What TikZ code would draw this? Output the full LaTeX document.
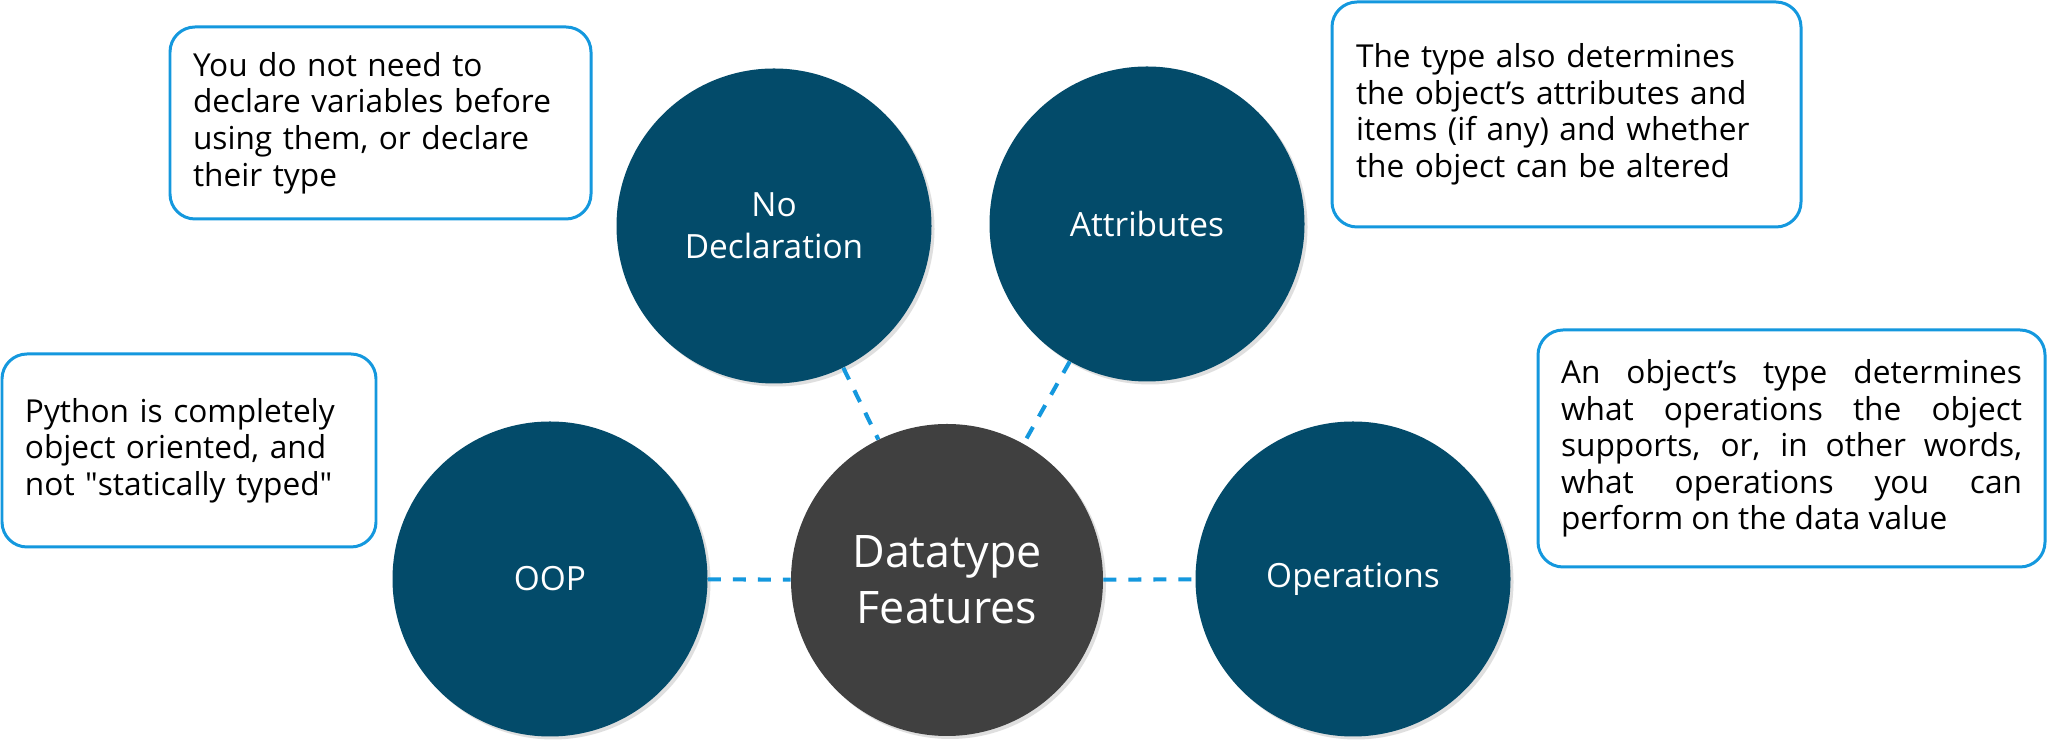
\documentclass[tikz,border=0pt]{standalone}
\usepackage{fontspec}
\setmainfont{Open Sans}
\usepackage{xcolor}
\usepackage{tikz}
\usetikzlibrary{shadows}

\definecolor{featblue}{RGB}{3,75,106}
\definecolor{hubgray}{RGB}{64,64,64}
\definecolor{lineblue}{RGB}{20,152,222}

\begin{document}
\begin{tikzpicture}[
  bubble/.style={circle,fill=featblue,text=white,minimum size=6.3cm,inner sep=0pt,align=center,
    font=\fontsize{19pt}{24pt}\selectfont,
    drop shadow={opacity=0.25,shadow xshift=0.06cm,shadow yshift=-0.06cm}},
  hub/.style={bubble,fill=hubgray,minimum size=6.24cm,font=\fontsize{25.5pt}{32pt}\selectfont},
  notebox/.style={draw=lineblue,line width=1.7pt,rounded corners=0.5cm,fill=white,
    inner xsep=0.46cm,align=left,font=\fontsize{18pt}{20.8pt}\selectfont},
  link/.style={draw=lineblue,line width=2.3pt,dash pattern=on 0.26cm off 0.24cm}
]
\path[fill=white,use as bounding box] (0,0) rectangle (40.96,15.02);

% circles
\node[hub]    (dtf)    at (18.94,3.42)  {Datatype\\Features};
\node[bubble] (nodecl) at (15.48,10.50) {No\\Declaration};
\node[bubble] (attr)   at (22.94,10.54) {Attributes};
\node[bubble] (oop)    at (11.00,3.44)  {OOP};
\node[bubble] (oper)   at (27.06,3.44)  {Operations};

% notes
\node[notebox,text width=7.5cm,minimum height=3.84cm] (nodecl-note) at (7.61,12.56)
  {You do not need to\\declare variables before\\using them, or declare\\their type};
\node[notebox,text width=8.42cm,minimum height=4.5cm,inner xsep=0.48cm] (attr-note) at (31.33,12.73)
  {The type also determines\\the object’s attributes and\\items (if any) and whether\\the object can be altered};
\node[notebox,text width=6.56cm,minimum height=3.86cm] (oop-note) at (3.78,6.01)
  {Python is completely\\object oriented, and\\not \textquotedbl statically typed\textquotedbl};
\node[notebox,text width=9.22cm,minimum height=4.74cm,align=justify] (oper-note) at (35.83,6.05)
  {An object’s type determines\linebreak what operations the object\linebreak supports, or, in other words,\linebreak what operations you can\linebreak perform on the data value};

% dashed links
\draw[link] (nodecl) -- (dtf);
\draw[link] (attr) -- (dtf);
\draw[link] (oop) -- (dtf);
\draw[link] (dtf) -- (oper);
\end{tikzpicture}
\end{document}
